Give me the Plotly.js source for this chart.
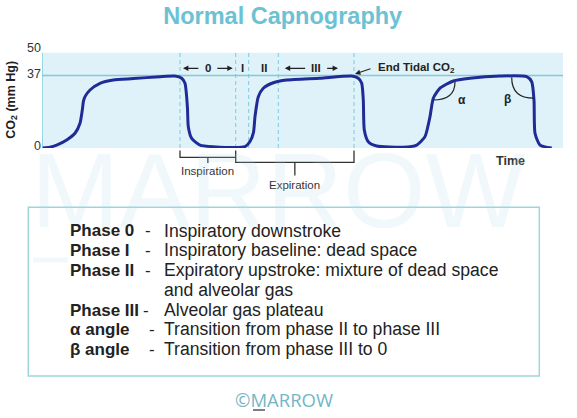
<!DOCTYPE html>
<html><head><meta charset="utf-8">
<script src="https://cdn.plot.ly/plotly-3.0.1.min.js"></script>
<style>html,body{margin:0;padding:0;background:#fff}#chart{width:577px;height:418px}</style>
</head><body><div id="chart"></div>
<script>
// ---------- data ----------
const timeValues = [0.7, 8, 14.7, 24.7, 33, 38, 40.3, 41.5, 43, 48, 58, 71.3, 91.3, 118, 133, 139.7, 143, 144.5, 145.5, 146.3, 149.7, 158, 171, 203, 208, 211.5, 213, 216.3, 221.3, 231.3, 244.7, 278, 309.7, 316.3, 319.7, 321.3, 322.3, 326.3, 334.7, 361.3, 374.7, 383, 388, 391.3, 398, 411.3, 428, 458, 484.7, 489.7, 492, 493, 498, 509.7];
const co2Values = [0, 0.4, 1.5, 4.1, 7.5, 12.6, 19.4, 24, 26.2, 29.6, 33, 34.7, 35.4, 36.4, 36.7, 35.6, 33, 27, 20, 10.9, 4.9, 1.5, 0.7, 0.7, 3.3, 8, 16, 26.2, 30.5, 33.3, 34.7, 35.6, 36.7, 35.6, 33, 24.5, 9.2, 3.2, 1, 0.4, 1.5, 5.8, 16, 25.4, 30.5, 34.2, 35.6, 36.7, 36.4, 33.8, 24.5, 7.5, 1.5, 0];
const yTickVals = [0, 37, 50];
const yTickText = ['0', '37', '50'];
const endTidalCO2 = 37;
const timeEnd = 521;
const phaseBoundaries = [138, 193.7, 206.7, 236.3, 312];
const phaseLabels = ['0', 'I', 'II', 'III'];
const phaseArrows = [true, false, false, true];
const alphaArc = [391, 413, 24.5, 33.7];   // start t, corner t, low v, high v
const betaArc = [469.7, 492, 36, 25.4];
const legendLabels = ['Phase 0', 'Phase I', 'Phase II', '', 'Phase III', 'α angle', 'β angle'];
const legendTexts = ['Inspiratory downstroke', 'Inspiratory baseline: dead space', 'Expiratory upstroke: mixture of dead space', 'and alveolar gas', 'Alveolar gas plateau', 'Transition from phase II to phase III', 'Transition from phase III to 0'];

// ---------- helpers (pixel -> paper) ----------
const L = 42, R = 14, T = 50, B = 270, W = 577, H = 418;
const PW = W - L - R, PH = H - T - B;
const px = p => (p - L) / PW;
const py = p => (H - B - p) / PH;
const vy = p => (H - B - p) / PH * 50;

const FONT = 'Liberation Sans, Arial, Helvetica, sans-serif';
const TEAL = '#7fcbd9';
const DARK = '#222';

const shapes = [];
const annotations = [];
function txt(o) { annotations.push(Object.assign({showarrow: false, xanchor: 'center', yanchor: 'middle'}, o)); }

// shaded plot area
const shadeTop = vy(52.7);
shapes.push({type: 'rect', xref: 'x', yref: 'y', x0: 0, x1: timeEnd, y0: 0, y1: shadeTop, fillcolor: '#dff2f9', line: {width: 0}, layer: 'below'});
shapes.push({type: 'line', xref: 'x', yref: 'y', x0: 0, x1: 0, y0: 0, y1: shadeTop, line: {color: TEAL, width: 1.5}, layer: 'below'});
shapes.push({type: 'line', xref: 'x', yref: 'y', x0: 0, x1: timeEnd, y0: endTidalCO2, y1: endTidalCO2, line: {color: TEAL, width: 1.5}, layer: 'below'});
shapes.push({type: 'line', xref: 'x', yref: 'y', x0: 0, x1: timeEnd, y0: -0.5, y1: -0.5, line: {color: TEAL, width: 2}, layer: 'below'});
phaseBoundaries.forEach(b => shapes.push({type: 'line', xref: 'x', yref: 'y', x0: b, x1: b, y0: 0, y1: shadeTop, line: {color: TEAL, width: 1, dash: '4px,3px'}, layer: 'below'}));

// phase labels and arrows
const arrowV = vy(68.3);
phaseLabels.forEach((lab, i) => {
  const a = phaseBoundaries[i], b = phaseBoundaries[i + 1], mid = (a + b) / 2;
  txt({xref: 'x', yref: 'y', x: mid, y: arrowV, text: '<b>' + lab + '</b>', font: {family: FONT, size: 11.5, color: DARK}});
  if (phaseArrows[i]) {
    const last = i === phaseLabels.length - 1;
    const lastInset = last ? 16 : 3, firstInset = last ? 6.5 : 3, half = last ? 9.5 : 8;
    annotations.push({xref: 'x', yref: 'y', axref: 'x', ayref: 'y', x: a + firstInset, y: arrowV, ax: mid - half, ay: arrowV, text: '', showarrow: true, arrowhead: 2, arrowsize: 0.9, arrowwidth: 1.2, arrowcolor: DARK, standoff: 0});
    annotations.push({xref: 'x', yref: 'y', axref: 'x', ayref: 'y', x: b - lastInset, y: arrowV, ax: mid + half, ay: arrowV, text: '', showarrow: true, arrowhead: 2, arrowsize: 0.9, arrowwidth: 1.2, arrowcolor: DARK, standoff: 0});
  }
});
// End tidal
const et = phaseBoundaries[4];
txt({xref: 'x', yref: 'y', x: et + 22, y: arrowV, xanchor: 'left', text: '<b>End Tidal CO<sub>2</sub></b>', font: {family: FONT, size: 11.5, color: DARK}});
annotations.push({xref: 'x', yref: 'y', axref: 'x', ayref: 'y', x: et + 1, y: vy(74), ax: et + 18, ay: arrowV, text: '', showarrow: true, arrowhead: 2, arrowsize: 0.9, arrowwidth: 1.2, arrowcolor: DARK, standoff: 0});

// alpha / beta arcs
shapes.push({type: 'path', xref: 'x', yref: 'y', path: `M ${alphaArc[0]},${alphaArc[2]} Q ${alphaArc[1]},${alphaArc[2]} ${alphaArc[1]},${alphaArc[3]}`, line: {color: DARK, width: 1.2}});
shapes.push({type: 'path', xref: 'x', yref: 'y', path: `M ${betaArc[0]},${betaArc[2]} Q ${betaArc[0]},${betaArc[3]} ${betaArc[1]},${betaArc[3]}`, line: {color: DARK, width: 1.2}});
txt({xref: 'x', yref: 'y', x: alphaArc[1] + 1, y: alphaArc[2], xanchor: 'left', text: '<b>α</b>', font: {family: FONT, size: 12, color: DARK}});
txt({xref: 'x', yref: 'y', x: betaArc[0] + 1, y: betaArc[3] - 0.5, xanchor: 'right', text: '<b>β</b>', font: {family: FONT, size: 12, color: DARK}});

// brackets
const [b0, b1, , , b4] = phaseBoundaries;
const bl = {color: '#333', width: 1.3};
const yTop = py(150.5), yIns = py(157.3), yExp = py(162.3);
const insMid = (b0 + b1) / 2, expMid = (b1 + b4) / 2;
shapes.push({type: 'path', xref: 'x', yref: 'paper', path: `M ${b0},${yTop} L ${b0},${yIns} L ${b1},${yIns}`, line: bl});
shapes.push({type: 'line', xref: 'x', yref: 'paper', x0: insMid, x1: insMid, y0: yIns, y1: py(163), line: bl});
shapes.push({type: 'path', xref: 'x', yref: 'paper', path: `M ${b1},${yTop} L ${b1},${yExp} L ${b4},${yExp} L ${b4},${yTop}`, line: bl});
shapes.push({type: 'line', xref: 'x', yref: 'paper', x0: expMid, x1: expMid, y0: yExp, y1: py(175.5), line: bl});
txt({xref: 'x', yref: 'paper', x: insMid, y: py(171), text: 'Inspiration', font: {family: FONT, size: 11.5, color: '#333'}});
txt({xref: 'x', yref: 'paper', x: expMid, y: py(184.5), text: 'Expiration', font: {family: FONT, size: 11.5, color: '#333'}});
txt({xref: 'x', yref: 'paper', x: 468, y: py(160.5), text: '<b>Time</b>', font: {family: FONT, size: 12.5, color: '#333'}});

// y axis title
txt({xref: 'paper', yref: 'paper', x: 0, xshift: 11.7 - L, y: py(100), textangle: -90, text: '<b>CO<sub>2</sub> (mm Hg)</b>', font: {family: FONT, size: 12.5, color: DARK}});

// watermark
txt({xref: 'paper', yref: 'paper', x: px(278), y: py(190), text: 'MARROW', font: {family: FONT, size: 106, color: 'rgba(175,218,235,0.18)'}});
shapes.push({type: 'line', xref: 'paper', yref: 'paper', x0: px(33), x1: px(68), y0: py(260), y1: py(260), line: {color: 'rgba(175,218,235,0.18)', width: 5}});

// description box
shapes.push({type: 'rect', xref: 'paper', yref: 'paper', x0: px(28.3), x1: px(539.3), y0: py(207.3), y1: py(376), line: {color: '#9dd5df', width: 1.5}, fillcolor: 'rgba(255,255,255,0)', layer: 'below'});
const rowY = [230.7, 250, 270, 290, 310, 329.3, 349.3];
const dashX = [147.7, 147.7, 147.7, null, 145.5, 152.3, 152.3];
legendLabels.forEach((lab, i) => {
  if (lab) {
    txt({xref: 'paper', yref: 'paper', x: px(68), y: py(rowY[i]), xanchor: 'left', text: '<b>' + lab + '</b>', font: {family: FONT, size: 17, color: DARK}});
    txt({xref: 'paper', yref: 'paper', x: px(dashX[i]), y: py(rowY[i]), text: '-', font: {family: FONT, size: 17, color: DARK}});
  }
  txt({xref: 'paper', yref: 'paper', x: px(161.5), y: py(rowY[i]), xanchor: 'left', text: legendTexts[i], font: {family: FONT, size: 17.6, color: DARK}});
});

// footer
txt({xref: 'paper', yref: 'paper', x: px(284), y: py(399), text: '©MARROW', font: {family: 'Open Sans, Liberation Sans, sans-serif', size: 18.5, color: '#74b6c6'}});
shapes.push({type: 'line', xref: 'paper', yref: 'paper', x0: px(253), x1: px(265), y0: py(410), y1: py(410), line: {color: '#555', width: 1.5}});

const trace = {x: timeValues, y: co2Values, type: 'scatter', mode: 'lines', line: {color: '#1f2b96', width: 3, shape: 'spline', smoothing: 0.6}, hoverinfo: 'skip'};

const layout = {
  width: W, height: H,
  margin: {l: L, r: R, t: T, b: B, pad: 0},
  paper_bgcolor: '#fff', plot_bgcolor: 'rgba(0,0,0,0)',
  showlegend: false,
  title: {text: '<b>Normal Capnography</b>', font: {family: FONT, size: 23.5, color: '#6cc1d3'}, x: 282.7 / W, xref: 'container', xanchor: 'center', y: 1 - 16 / H, yref: 'container', yanchor: 'middle'},
  xaxis: {range: [0, timeEnd], visible: false, fixedrange: true},
  yaxis: {range: [0, 50], tickvals: yTickVals, ticktext: yTickText, showgrid: false, zeroline: false, showline: false, ticks: '', ticklabelshift: -2, tickfont: {family: FONT, size: 12.5, color: '#333'}, fixedrange: true},
  shapes: shapes,
  annotations: annotations
};
Plotly.newPlot('chart', [trace], layout, {displayModeBar: false, staticPlot: true});
</script></body></html>
